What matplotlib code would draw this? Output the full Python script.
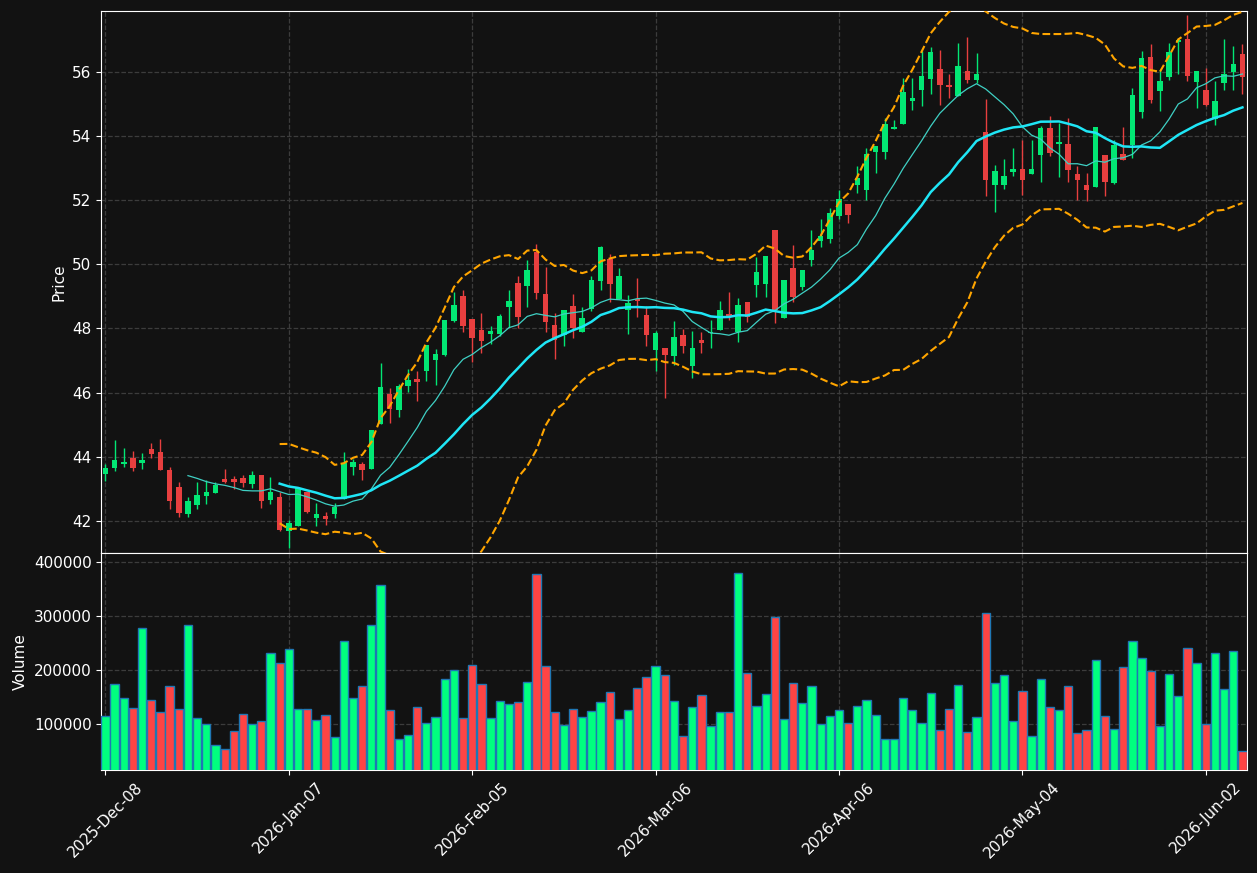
import matplotlib
matplotlib.use("Agg")
import matplotlib.pyplot as plt
import numpy as np
import pandas as pd

# Daily OHLC + volume (125 trading days)
opens = [
    43.47, 43.67, 43.78, 43.97, 43.81, 44.25, 44.15, 43.59, 43.06, 42.22,
    42.50, 42.79, 42.88, 43.32, 43.31, 43.35, 43.16, 43.44, 42.66, 42.76,
    41.70, 41.85, 42.91, 42.10, 42.15, 42.22, 42.70, 43.69, 43.78, 43.62,
    45.03, 45.96, 45.46, 46.21, 46.44, 46.69, 47.02, 47.17, 48.24, 49.01,
    48.30, 47.95, 47.84, 47.82, 48.68, 49.42, 49.31, 50.38, 49.07, 48.10,
    47.79, 48.69, 47.90, 48.62, 49.49, 50.16, 48.91, 48.58, 48.92, 48.42,
    47.33, 47.38, 47.14, 47.80, 46.83, 47.64, 47.85, 47.95, 48.45, 47.90,
    48.83, 49.36, 49.39, 51.07, 48.34, 49.88, 49.30, 50.12, 50.74, 50.80,
    51.51, 51.88, 52.48, 52.30, 53.51, 53.51, 54.20, 54.36, 55.09, 55.42,
    55.78, 56.08, 55.59, 55.25, 56.01, 55.75, 54.13, 52.46, 52.46, 52.86,
    52.97, 52.80, 53.39, 54.24, 53.73, 53.75, 52.82, 52.48, 52.42, 53.41,
    52.53, 53.44, 53.72, 54.73, 56.47, 55.39, 55.82, 56.92, 57.03, 55.67,
    55.44, 54.52, 55.63, 55.98, 56.56,
]
highs = [
    43.77, 44.53, 44.27, 44.19, 44.11, 44.42, 44.55, 43.70, 43.23, 42.76,
    43.21, 43.28, 43.23, 43.62, 43.40, 43.44, 43.56, 43.44, 43.36, 42.91,
    42.05, 43.02, 42.91, 42.57, 42.29, 42.57, 44.14, 43.95, 43.85, 44.84,
    46.92, 46.14, 46.27, 46.73, 46.68, 47.49, 47.35, 48.27, 49.15, 49.20,
    48.30, 48.47, 48.09, 48.44, 49.20, 49.65, 50.12, 50.64, 49.90, 48.47,
    48.58, 49.07, 48.66, 49.62, 50.58, 50.32, 49.88, 49.05, 49.57, 48.70,
    47.93, 47.38, 48.24, 47.97, 47.92, 47.88, 48.27, 48.86, 49.15, 48.94,
    48.83, 50.24, 50.26, 51.07, 49.51, 50.61, 49.83, 51.07, 51.40, 51.75,
    52.30, 51.88, 53.07, 53.62, 53.69, 54.56, 54.50, 55.80, 55.80, 56.63,
    56.77, 56.66, 55.91, 56.89, 57.08, 56.58, 55.15, 53.10, 53.27, 53.62,
    53.88, 53.88, 54.30, 54.63, 54.40, 54.55, 53.05, 52.84, 54.26, 53.41,
    53.88, 54.28, 55.49, 56.63, 56.86, 56.06, 56.89, 57.05, 57.75, 56.03,
    56.11, 55.70, 57.03, 56.79, 56.87,
]
lows = [
    43.26, 43.57, 43.68, 43.57, 43.61, 43.96, 43.59, 42.37, 42.12, 42.12,
    42.37, 42.55, 42.87, 43.18, 42.99, 43.05, 43.02, 42.42, 42.55, 41.70,
    41.15, 41.85, 42.24, 41.85, 41.87, 42.11, 42.70, 43.43, 43.28, 43.62,
    45.03, 45.05, 45.25, 46.03, 45.75, 46.38, 46.23, 47.15, 48.21, 47.88,
    46.97, 47.25, 47.51, 47.77, 48.05, 48.01, 48.66, 48.91, 47.90, 47.05,
    47.47, 47.70, 47.90, 48.56, 49.20, 48.84, 48.91, 47.83, 48.35, 47.44,
    46.69, 45.85, 46.85, 47.23, 46.45, 47.25, 47.38, 47.95, 48.27, 47.59,
    48.19, 48.97, 48.97, 48.18, 48.34, 48.84, 49.20, 49.96, 50.55, 50.65,
    51.40, 51.28, 52.22, 52.01, 52.84, 53.27, 54.20, 54.36, 54.79, 54.92,
    55.31, 54.95, 55.18, 55.25, 55.65, 55.65, 52.14, 51.64, 52.34, 52.74,
    52.16, 52.80, 52.55, 53.36, 52.73, 52.55, 52.01, 51.96, 52.42, 52.13,
    52.51, 53.26, 53.31, 54.55, 55.02, 54.76, 55.75, 55.91, 55.72, 54.87,
    54.92, 54.35, 55.44, 55.44, 55.31,
]
closes = [
    43.67, 43.91, 43.84, 43.66, 43.91, 44.09, 43.59, 42.63, 42.25, 42.63,
    42.81, 42.91, 43.13, 43.22, 43.22, 43.19, 43.44, 42.63, 42.91, 41.72,
    41.93, 43.02, 42.29, 42.22, 42.06, 42.45, 43.80, 43.84, 43.59, 44.84,
    46.18, 45.49, 46.21, 46.40, 46.34, 47.49, 47.21, 48.27, 48.73, 48.09,
    47.69, 47.61, 47.92, 48.39, 48.86, 48.37, 49.83, 49.12, 48.21, 47.63,
    48.58, 48.01, 48.32, 49.51, 50.55, 49.39, 49.64, 48.80, 48.86, 47.80,
    47.87, 47.18, 47.75, 47.47, 47.40, 47.56, 47.90, 48.58, 48.40, 48.73,
    48.37, 49.77, 50.26, 48.58, 49.51, 48.99, 49.83, 50.45, 50.89, 51.60,
    52.04, 51.54, 52.68, 53.44, 53.69, 54.38, 54.26, 55.35, 55.19, 55.85,
    56.62, 55.57, 55.51, 56.19, 55.75, 55.94, 52.61, 52.91, 52.76, 52.97,
    52.61, 52.97, 54.24, 53.48, 53.80, 52.94, 52.63, 52.30, 54.26, 52.55,
    53.72, 53.26, 55.28, 56.41, 55.11, 55.72, 56.61, 56.98, 55.85, 56.03,
    54.97, 55.09, 55.93, 56.25, 55.82,
]
volumes = [
    115400, 174100, 148100, 129600, 277800, 144400, 122200, 170400, 127800, 283300,
    111100, 100000, 61100, 53700, 87000, 118500, 100000, 105600, 231500, 213000,
    238900, 127800, 127800, 107400, 116700, 75900, 253700, 148100, 170400, 283300,
    357400, 125900, 72200, 79600, 131500, 101900, 113000, 183300, 200000, 111100,
    209300, 174100, 111100, 142600, 137000, 140700, 177800, 377800, 207400, 122200,
    98100, 127800, 113000, 124100, 140700, 159300, 109300, 125900, 166700, 187000,
    207400, 190700, 142600, 77800, 131500, 153700, 96300, 122200, 122200, 379600,
    194400, 133300, 155600, 298800, 109300, 175900, 138900, 170400, 100000, 114800,
    125900, 101900, 133300, 144400, 116700, 72200, 72200, 148100, 125900, 101900,
    157400, 88900, 127800, 172200, 85200, 113000, 305600, 175900, 190700, 105600,
    161100, 77800, 183300, 131500, 125900, 170400, 83300, 88900, 218500, 114800,
    90700, 205600, 253700, 222200, 198100, 96300, 192600, 151900, 240700, 213000,
    100000, 231500, 164800, 235200, 50000,
]
tick_labels = [
    "2025-Dec-08", "2026-Jan-07", "2026-Feb-05", "2026-Mar-06",
    "2026-Apr-06", "2026-May-04", "2026-Jun-02",
]
tick_step = 20

BG = "#121212"
UP = "#02e774"
DOWN = "#e73f3f"
UP_VOL = "#00ff7f"
DOWN_VOL = "#ff4444"

df = pd.DataFrame({"open": opens, "high": highs, "low": lows, "close": closes, "volume": volumes})
x = np.arange(len(df))
up = df["close"] >= df["open"]

ma10 = df["close"].rolling(10).mean()
ma20 = df["close"].rolling(20).mean()
sd20 = df["close"].rolling(20).std()
bb_up = ma20 + 2 * sd20
bb_lo = ma20 - 2 * sd20

fig = plt.figure(figsize=(12.57, 8.73), dpi=100, facecolor=BG)
ax = fig.add_axes([0.0806, 0.3666, 0.9111, 0.6209])
axv = fig.add_axes([0.0806, 0.1180, 0.9111, 0.2486], sharex=ax)

for a in (ax, axv):
    a.set_facecolor(BG)
    for s in a.spines.values():
        s.set_color("white")
    a.tick_params(colors="white", labelsize=11)
    a.grid(True, color="#3c3c3c", linestyle="--", linewidth=0.9)
    a.set_axisbelow(True)

# candles: wicks + bodies
ax.vlines(x, df["low"], df["high"], colors=np.where(up, UP, DOWN), linewidth=1.0, zorder=2)
body = (df["close"] - df["open"]).abs().clip(lower=0.04)
ax.bar(x, body, bottom=df[["open", "close"]].min(axis=1), width=0.6,
       color=np.where(up, UP, DOWN), linewidth=0, zorder=3)

ax.plot(x, ma10, color="#3fd0c4", linewidth=0.9, zorder=4)
ax.plot(x, ma20, color="#1fe6f6", linewidth=1.8, zorder=4)
ax.plot(x, bb_up, color="orange", linestyle="--", linewidth=1.5, zorder=4)
ax.plot(x, bb_lo, color="orange", linestyle="--", linewidth=1.5, zorder=4)

ax.set_ylim(41.01, 57.89)
ax.set_yticks(np.arange(42, 57, 2))
ax.set_ylabel("Price", color="white", fontsize=11)
ax.tick_params(axis="x", labelbottom=False)

# volume
axv.bar(x, df["volume"], width=0.9, color=np.where(up, UP_VOL, DOWN_VOL),
        edgecolor="#1f77b4", linewidth=1.0, zorder=3)
axv.set_ylim(15400, 417000)
axv.set_yticks([100000, 200000, 300000, 400000])
axv.set_yticklabels(["100000", "200000", "300000", "400000"])
axv.set_ylabel("Volume", color="white", fontsize=11)

axv.set_xlim(-0.45, len(df) - 0.55)
axv.set_xticks(x[::tick_step])
axv.set_xticklabels(tick_labels, rotation=45)

fig.savefig("out.png", dpi=100, facecolor=BG)
